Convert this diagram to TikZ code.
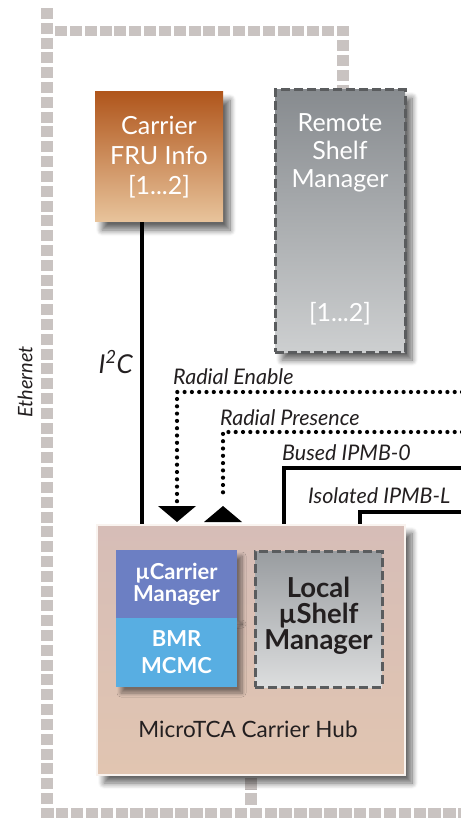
\documentclass[tikz,border=0pt]{standalone}
\usepackage{fontspec}
\setmainfont{Lato}
\usetikzlibrary{shadows,shadows.blur,arrows.meta}
\definecolor{eth}{HTML}{C9C3C1}
\definecolor{frutop}{HTML}{B0561C}
\definecolor{frubot}{HTML}{E8C49C}
\definecolor{rsmtop}{HTML}{878B8F}
\definecolor{rsmbot}{HTML}{CDCFD0}
\definecolor{dashgray}{HTML}{5A5C5E}
\definecolor{hubtop}{HTML}{D6BDB7}
\definecolor{hubbot}{HTML}{E1C5B1}
\definecolor{ucm}{HTML}{6C7FC3}
\definecolor{bmr}{HTML}{58AEE2}
\definecolor{txt}{HTML}{231F20}
\tikzset{
  boxshadow/.style={blur shadow={shadow xshift=7pt,shadow yshift=-8pt,shadow blur radius=6pt,shadow blur steps=10,shadow opacity=60}},
  smallshadow/.style={blur shadow={shadow xshift=5pt,shadow yshift=-6pt,shadow blur radius=4pt,shadow blur steps=8,shadow opacity=45}},
  frubox/.style={minimum width=128pt,minimum height=130pt,inner sep=0pt,
    top color=frutop,bottom color=frubot,text=white,align=center,
    font=\fontsize{25}{30}\selectfont,boxshadow},
  rsmbox/.style={minimum width=130pt,minimum height=262pt,inner sep=0pt,
    top color=rsmtop,bottom color=rsmbot,draw=dashgray,line width=3pt,
    dash pattern=on 9pt off 4pt,boxshadow},
  rsmtext/.style={text=white,font=\fontsize{25}{28}\selectfont,align=center},
  hubbox/.style={minimum width=308pt,minimum height=250pt,inner sep=0pt,
    top color=hubtop,bottom color=hubbot,draw=white!80!hubbot,line width=1.5pt,boxshadow},
  ucmbox/.style={minimum width=121pt,minimum height=68pt,inner sep=0pt,fill=ucm,
    text=white,align=center,font=\bfseries\fontsize{22}{22}\selectfont,smallshadow},
  bmrbox/.style={minimum width=121pt,minimum height=69pt,inner sep=0pt,fill=bmr,
    text=white,align=center,font=\bfseries\fontsize{22}{27}\selectfont,smallshadow},
  localbox/.style={minimum width=127pt,minimum height=136pt,inner sep=0pt,
    top color=rsmtop!85!white,bottom color=rsmbot!70!white,draw=dashgray,line width=3pt,
    dash pattern=on 9pt off 4pt},
  localtext/.style={text=txt,align=center,font=\bfseries\fontsize{27.5}{26}\selectfont},
  hublabel/.style={text=txt,font=\fontsize{22.5}{24}\selectfont},
  siglabel/.style={text=txt,font=\itshape\fontsize{21.5}{22}\selectfont,inner sep=0pt},
  solidline/.style={line width=4pt,draw=black},
  dotline/.style={line width=4.2pt,draw=black,line cap=round,dash pattern=on 0pt off 7.3pt},
  tri/.style={fill=black},
}
\begin{document}
\begin{tikzpicture}[x=1pt,y=-1pt]
\useasboundingbox (0,0) rectangle (460,818);
% Ethernet bus
\foreach \k in {0,...,53} \fill[eth] (41,{8+\k*14.81}) rectangle +(12,11);
\foreach \k in {0,...,19} \fill[eth] ({55+\k*14.84},26) rectangle +(12,10);
\foreach \yy in {40,55,70} \fill[eth] (337,\yy) rectangle +(12,11);
\fill[eth] (337,85) rectangle (349,92);
\foreach \k in {0,...,28} \fill[eth] ({41+\k*14.9},808) rectangle +(12.5,12);
\fill[eth] (245,778) rectangle +(12,12);
\fill[eth] (245,793) rectangle +(12,12);
\node[text=txt,font=\itshape\fontsize{20}{20}\selectfont,rotate=90] (eth) at (25,382) {Ethernet};

% Boxes
\node[frubox] (fru) at (159,157) {Carrier\\FRU Info\\{[1...2]}};
\node[rsmbox] (rsm) at (340,221) {};
\node[rsmtext,anchor=north] (rsmt) at ([yshift=-22pt]rsm.north) {Remote\\Shelf\\Manager};
\node[rsmtext,anchor=base] (rsmn) at ([yshift=32pt]rsm.south) {[1...2]};

\node[hubbox] (hub) at (251,650) {};
\node[ucmbox] (ucm) at (176.5,584) {µCarrier\\Manager};
\node[bmrbox] (bmr) at (176.5,652.5) {BMR\\MCMC};
\node[localbox] (loc) at (318.5,619) {};
\node[localtext] (loct) at (318.5,616) {Local\\µShelf\\Manager};
\node[hublabel] (hubl) at (248,729) {MicroTCA Carrier Hub};

% Connectors
\coordinate (i2cTop) at ([xshift=-17pt]fru.south);
\draw[solidline] (i2cTop) -- (i2cTop |- hub.north);
\node[siglabel,font=\itshape\fontsize{26}{26}\selectfont,anchor=base east] (i2cl) at (133,373) {I\textsuperscript{2}C};

\coordinate (enR) at (462,392);
\coordinate (enIn) at (177,522);
\draw[dotline] (enR) -- (enR -| enIn) -- ([yshift=18pt]enIn);
\fill[tri] ([xshift=-19pt,yshift=16pt]enIn) -- ([xshift=19pt,yshift=16pt]enIn) -- (enIn) -- cycle;
\node[siglabel,anchor=base west] (enl) at (173,384) {Radial Enable};

\coordinate (prR) at (462,432);
\coordinate (prIn) at (223,522);
\draw[dotline] (prR) -- (prR -| prIn) -- ([yshift=24pt]prIn);
\fill[tri] ([xshift=-19pt]prIn) -- ([xshift=19pt]prIn) -- ([yshift=16pt]prIn) -- cycle;
\node[siglabel,anchor=base west] (prl) at (220,425) {Radial Presence};

\coordinate (bR) at (462,468);
\coordinate (bIn) at (284,468);
\draw[solidline] (bR) -- (bIn) -- (bIn |- hub.north);
\node[siglabel,anchor=base west] (bl) at (282,460) {Bused IPMB-0};

\coordinate (iR) at (462,512);
\coordinate (iIn) at (360,512);
\draw[solidline] (iR) -- (iIn) -- (iIn |- hub.north);
\node[siglabel,anchor=base west] (il) at (308,503) {Isolated IPMB-L};
\end{tikzpicture}
\end{document}
